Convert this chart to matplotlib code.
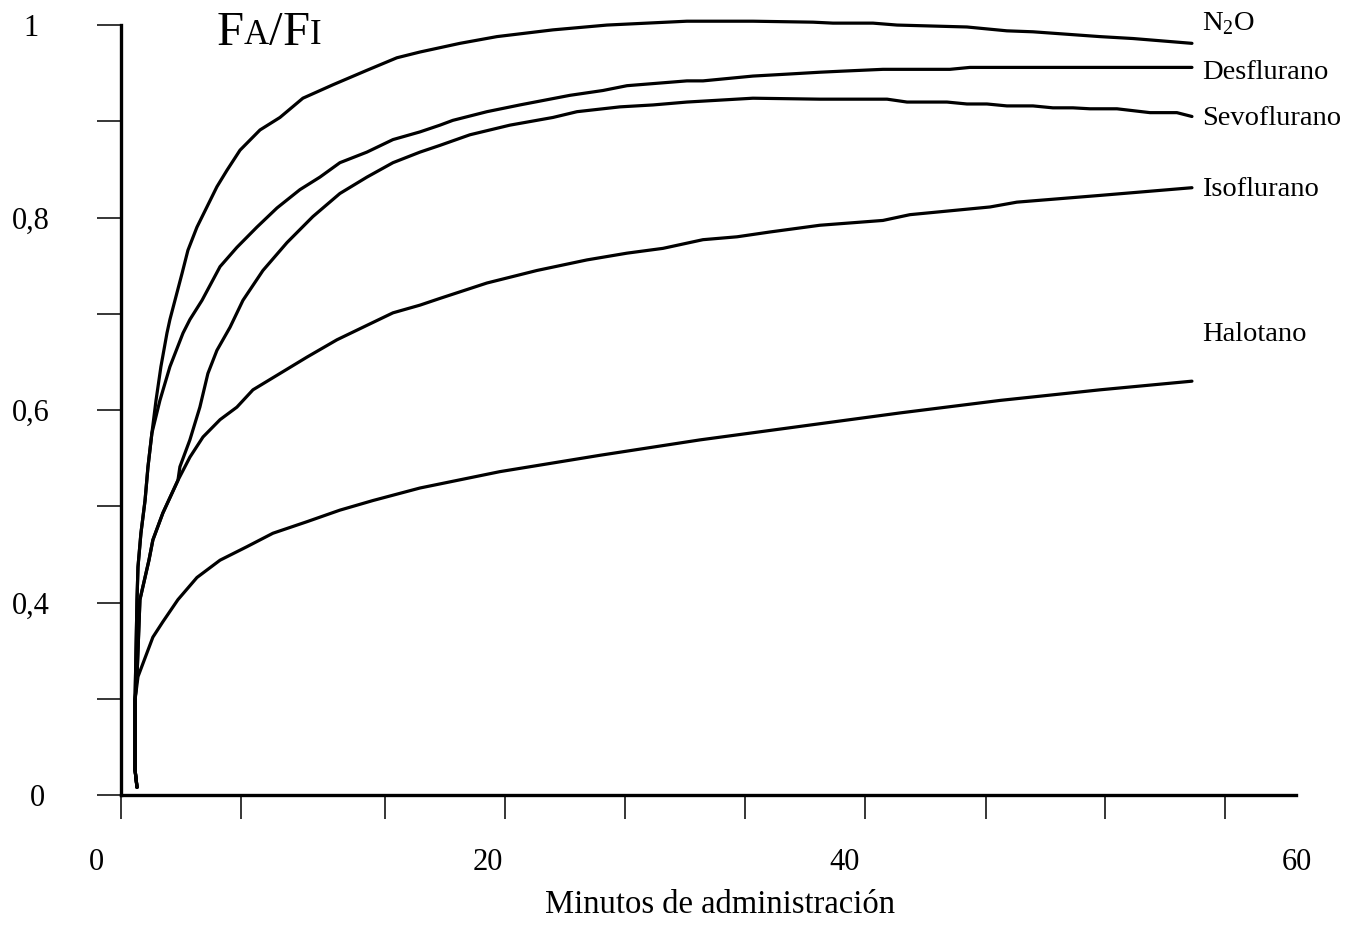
import matplotlib.pyplot as plt
from matplotlib.transforms import ScaledTranslation

# fuente parecida a Times New Roman
plt.rcParams['font.family'] = ['Liberation Serif', 'DejaVu Serif']
plt.rcParams['mathtext.fontset'] = 'custom'
plt.rcParams['mathtext.rm'] = 'Liberation Serif'

# curvas: minutos de administracion y FA/FI
n2o_t = [0.82, 0.72, 0.72, 0.82, 0.87, 1.02, 1.23, 1.38, 1.58, 1.79,
         2.04, 2.35, 2.50, 3.12, 3.42, 3.88, 4.39, 4.90, 5.41, 6.08,
         7.10, 8.12, 9.29, 10.83, 12.56, 14.09, 15.27, 17.31, 19.20, 22.06,
         24.82, 26.86, 28.90, 32.27, 35.34, 36.36, 38.40, 39.63, 43.20, 45.24,
         46.57, 49.99, 51.68, 54.69]
n2o_v = [0.208, 0.226, 0.299, 0.403, 0.437, 0.472, 0.506, 0.541, 0.576, 0.610,
         0.645, 0.680, 0.694, 0.742, 0.766, 0.790, 0.811, 0.832, 0.849, 0.870,
         0.891, 0.904, 0.924, 0.938, 0.953, 0.966, 0.972, 0.981, 0.988, 0.995,
         1.000, 1.002, 1.004, 1.004, 1.003, 1.002, 1.002, 1.000, 0.998, 0.994,
         0.993, 0.988, 0.986, 0.981]

des_t = [0.82, 0.72, 0.72, 0.82, 0.87, 1.02, 1.23, 1.38, 1.58, 1.99,
         2.50, 3.17, 3.52, 4.14, 5.06, 5.92, 6.94, 7.97, 9.14, 10.16,
         11.18, 12.56, 13.89, 15.27, 16.29, 16.95, 18.69, 20.37, 22.93, 24.61,
         25.84, 28.90, 29.72, 32.27, 34.01, 35.69, 36.72, 38.91, 42.33, 43.35,
         54.69]
des_v = [0.208, 0.226, 0.299, 0.403, 0.437, 0.472, 0.506, 0.541, 0.576, 0.610,
         0.645, 0.680, 0.694, 0.714, 0.749, 0.769, 0.790, 0.810, 0.829, 0.842,
         0.857, 0.868, 0.881, 0.889, 0.896, 0.901, 0.910, 0.917, 0.927, 0.932,
         0.937, 0.942, 0.942, 0.947, 0.949, 0.951, 0.952, 0.954, 0.954, 0.956,
         0.956]

sevo_t = [0.82, 0.72, 0.72, 0.82, 0.97, 1.43, 1.63, 2.14, 2.91, 3.01,
          3.52, 4.03, 4.44, 4.90, 5.57, 6.23, 7.25, 8.48, 9.80, 11.18,
          12.56, 13.89, 15.27, 16.29, 17.82, 19.86, 22.06, 23.29, 25.48, 27.17,
          28.90, 32.27, 35.69, 39.12, 40.14, 42.18, 43.20, 44.22, 45.24, 46.57,
          47.59, 48.61, 49.48, 50.86, 52.55, 53.92, 54.69]
sevo_v = [0.208, 0.226, 0.299, 0.323, 0.403, 0.444, 0.465, 0.493, 0.527, 0.541,
          0.569, 0.603, 0.638, 0.662, 0.686, 0.714, 0.745, 0.774, 0.801, 0.825,
          0.842, 0.857, 0.868, 0.875, 0.886, 0.896, 0.904, 0.910, 0.915, 0.917,
          0.920, 0.924, 0.923, 0.923, 0.920, 0.920, 0.918, 0.918, 0.916, 0.916,
          0.914, 0.914, 0.913, 0.913, 0.909, 0.909, 0.905]

iso_t = [0.82, 0.72, 0.72, 0.82, 0.97, 1.43, 1.63, 2.14, 2.91,
         3.52, 4.19, 5.06, 5.92, 6.74, 8.12, 9.50, 11.03, 12.56, 13.89,
         15.27, 16.29, 18.69, 21.24, 23.80, 25.84, 27.68, 29.72, 31.46, 33.14,
         35.69, 38.91, 40.29, 44.38, 45.75, 49.99, 54.69]
iso_v = [0.208, 0.226, 0.299, 0.323, 0.403, 0.444, 0.465, 0.493, 0.527,
         0.551, 0.572, 0.590, 0.603, 0.621, 0.638, 0.655, 0.673, 0.688, 0.701,
         0.709, 0.716, 0.732, 0.745, 0.756, 0.763, 0.768, 0.777, 0.780, 0.785,
         0.792, 0.797, 0.803, 0.811, 0.816, 0.823, 0.831]

halo_t = [0.82, 0.72, 0.72, 0.87, 1.63, 2.14, 2.91, 3.88, 5.06, 6.43,
          7.76, 9.50, 11.18, 12.87, 15.27, 19.35, 24.46, 29.57, 34.67, 39.78,
          44.89, 49.99, 54.69]
halo_v = [0.208, 0.226, 0.299, 0.323, 0.364, 0.380, 0.403, 0.426, 0.444, 0.458,
          0.472, 0.484, 0.496, 0.506, 0.519, 0.536, 0.553, 0.569, 0.583, 0.597,
          0.610, 0.621, 0.630]

nombres = ['N$_2$O', 'Desflurano', 'Sevoflurano', 'Isoflurano', 'Halotano']
altura_nombres = [1.002, 0.951, 0.903, 0.829, 0.678]

# ejes (el eje y esta cortado: la marca de abajo dice 0)
marcas_x = [0, 6.13, 13.48, 19.61, 25.74, 31.87, 37.99, 44.17, 50.25, 56.38]
pos_etiquetas_x = [-1.23, 18.74, 36.97, 60.05]
etiquetas_x = ['0', '20', '40', '60']
marcas_y = [0.2, 0.3, 0.4, 0.5, 0.6, 0.7, 0.8, 0.9, 1.0]
etiquetas_y = ['0', '', '0,4', '', '0,6', '', '0,8', '', '1']

fig = plt.figure(figsize=(13.59, 9.35), dpi=100)
ax = fig.add_axes([0.0890, 0.1497, 0.8646, 0.8235])

# curvas
for t, v in [(n2o_t, n2o_v), (des_t, des_v), (sevo_t, sevo_v),
             (iso_t, iso_v), (halo_t, halo_v)]:
    ax.plot(t, v, color='black', linewidth=2.3, clip_on=False,
            solid_joinstyle='round', solid_capstyle='round')

# nombres a la derecha
for nombre, y in zip(nombres, altura_nombres):
    ax.text(55.2, y, nombre, fontsize=20.5, va='center', ha='left')

ax.set_xlim(0, 60)
ax.set_ylim(0.2, 1.0)
ax.spines['top'].set_visible(False)
ax.spines['right'].set_visible(False)
ax.spines['left'].set_linewidth(2.4)
ax.spines['bottom'].set_linewidth(2.4)

ax.set_xticks(marcas_x)
ax.set_xticklabels([])
ax.set_yticks(marcas_y)
ax.set_yticklabels(etiquetas_y, fontsize=22)
ax.tick_params(axis='both', direction='out', length=17, width=1.1, color='black')
ax.tick_params(axis='y', pad=48)
for lab in ax.get_yticklabels():
    lab.set_horizontalalignment('center')
# el 0 de abajo esta un poco mas a la derecha
cero = ax.get_yticklabels()[0]
cero.set_transform(cero.get_transform() + ScaledTranslation(0.07, 0, fig.dpi_scale_trans))

# numeros del eje x
for x, lab in zip(pos_etiquetas_x, etiquetas_x):
    ax.text(x, -0.087, lab, fontsize=22, ha='center', va='center',
            transform=ax.get_xaxis_transform())

fig.text(720 / 1359, 1 - 905 / 935, 'Minutos de administración',
         fontsize=23.5, ha='center', va='center')

# titulo FA/FI con versalitas
f1 = fig.text(217 / 1359, 1 - 45 / 935, 'F', fontsize=35, va='baseline')
a1 = ax.annotate('A', xy=(1, 0), xycoords=f1, fontsize=25, va='bottom',
                 xytext=(0, 2.2), textcoords='offset points')
b1 = ax.annotate('/', xy=(1, 0), xycoords=a1, fontsize=35, va='bottom',
                 xytext=(0, -2.2), textcoords='offset points')
f2 = ax.annotate('F', xy=(1, 0), xycoords=b1, fontsize=35, va='bottom')
ax.annotate('I', xy=(1, 0), xycoords=f2, fontsize=25, va='bottom',
            xytext=(0, 2.2), textcoords='offset points')

fig.savefig('out.png', dpi=100)
